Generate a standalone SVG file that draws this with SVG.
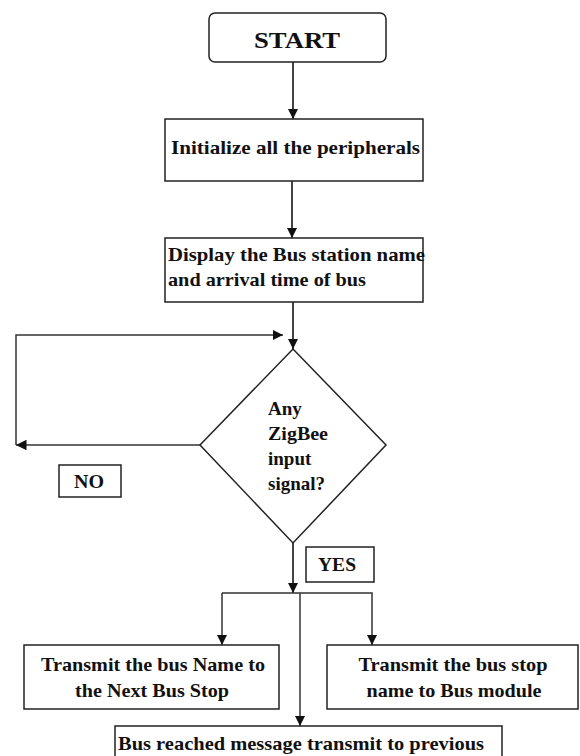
<svg xmlns="http://www.w3.org/2000/svg" width="580" height="756" viewBox="0 0 580 756">
<style>
  .box { fill: #fff; stroke: #222; stroke-width: 1.5; }
  .t { font-family: "Liberation Serif", "Times New Roman", serif; font-weight: bold; font-size: 19px; fill: #111; }
  .c { text-anchor: middle; }
  .ln { fill: none; stroke: #333; stroke-width: 1.5; }
  .cn { fill: none; stroke: #444; stroke-width: 2; }
</style>
<defs>
  <marker id="ah" viewBox="0 0 10 10" refX="10" refY="5" markerWidth="5" markerHeight="5" orient="auto" markerUnits="strokeWidth">
    <path d="M0,0 L10,5 L0,10 z" fill="#111"/>
  </marker>
  <marker id="ah2" viewBox="0 0 10 10" refX="10" refY="5" markerWidth="7" markerHeight="7" orient="auto" markerUnits="strokeWidth">
    <path d="M0,0 L10,5 L0,10 z" fill="#111"/>
  </marker>
</defs>
<rect width="580" height="756" fill="#fff"/>
<g id="connectors">
  <line class="cn" x1="293" y1="62" x2="293" y2="119" marker-end="url(#ah)"/>
  <line class="cn" x1="292" y1="181" x2="292" y2="238" marker-end="url(#ah)"/>
  <line class="cn" x1="293" y1="302" x2="293" y2="349" marker-end="url(#ah)"/>
  <line class="ln" x1="200" y1="445" x2="16" y2="445" marker-end="url(#ah2)"/>
  <polyline class="ln" points="16,445 16,335 283,335" marker-end="url(#ah2)"/>
  <line class="cn" x1="293" y1="543" x2="293" y2="593" marker-end="url(#ah)"/>
  <polyline class="ln" points="222,593 372,593 372,645" marker-end="url(#ah2)"/>
  <line class="ln" x1="222" y1="593" x2="222" y2="645" marker-end="url(#ah2)"/>
  <line class="ln" x1="300" y1="593" x2="300" y2="726" marker-end="url(#ah2)"/>
</g>
<g id="start">
  <rect class="box" x="209" y="13" width="177" height="49" rx="6"/>
  <text class="t c" x="297" y="48" style="font-size:23px" textLength="86" lengthAdjust="spacingAndGlyphs">START</text>
</g>
<g id="init">
  <rect class="box" x="165" y="119" width="258" height="62"/>
  <text class="t" x="171" y="154" textLength="249" lengthAdjust="spacingAndGlyphs">Initialize all the peripherals</text>
</g>
<g id="display">
  <rect class="box" x="165" y="238" width="258" height="64"/>
  <text class="t" x="168" y="261" textLength="257" lengthAdjust="spacingAndGlyphs">Display the Bus station name</text>
  <text class="t" x="168" y="286" textLength="198" lengthAdjust="spacingAndGlyphs">and arrival time of bus</text>
</g>
<g id="decision">
  <polygon class="box" points="293,349 386,445 293,543 200,445"/>
  <text class="t" x="268" y="415">Any</text>
  <text class="t" x="268" y="440" textLength="60" lengthAdjust="spacingAndGlyphs">ZigBee</text>
  <text class="t" x="268" y="465">input</text>
  <text class="t" x="268" y="490">signal?</text>
</g>
<g id="no">
  <rect class="box" x="59" y="465" width="62" height="32"/>
  <text class="t c" x="89" y="488" textLength="30" lengthAdjust="spacingAndGlyphs">NO</text>
</g>
<g id="yes">
  <rect class="box" x="306" y="547" width="68" height="35"/>
  <text class="t c" x="337" y="571" textLength="38" lengthAdjust="spacingAndGlyphs">YES</text>
</g>
<g id="transmit-name">
  <rect class="box" x="24" y="645" width="255" height="64"/>
  <text class="t c" x="153" y="671" textLength="224" lengthAdjust="spacingAndGlyphs">Transmit the bus Name to</text>
  <text class="t c" x="152" y="697" textLength="154" lengthAdjust="spacingAndGlyphs">the Next Bus Stop</text>
</g>
<g id="transmit-stop">
  <rect class="box" x="327" y="645" width="251" height="64"/>
  <text class="t c" x="453" y="671" textLength="189" lengthAdjust="spacingAndGlyphs">Transmit the bus stop</text>
  <text class="t c" x="454" y="697" textLength="175" lengthAdjust="spacingAndGlyphs">name to Bus module</text>
</g>
<g id="bus-reached">
  <rect class="box" x="115" y="726" width="387" height="40"/>
  <text class="t" x="118" y="750" textLength="366" lengthAdjust="spacingAndGlyphs">Bus reached message transmit to previous</text>
</g>
</svg>
